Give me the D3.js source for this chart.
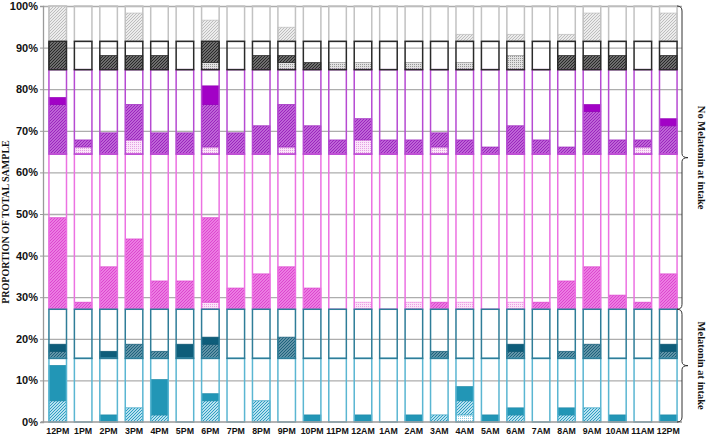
<!DOCTYPE html>
<html><head><meta charset="utf-8">
<script src="https://cdn.jsdelivr.net/npm/d3@7/dist/d3.min.js"></script>
<style>body{margin:0;background:#fff}svg{display:block}</style>
</head><body>
<script>
// ---------- DATA (percent of total sample) ----------
const timeLabels = ["12PM","1PM","2PM","3PM","4PM","5PM","6PM","7PM","8PM","9PM","10PM","11PM","12AM","1AM","2AM","3AM","4AM","5AM","6AM","7AM","8AM","9AM","10AM","11AM","12PM"];
const yTickValues = [0,10,20,30,40,50,60,70,80,90,100];
// cumulative boundaries of the six sub-groups (frames)
const groupBounds = [0, 15.3, 27.1, 64.4, 84.7, 91.5, 100];

// Melatonin at intake — light teal group
const tealDotted  = [0,0,0,0,0,0,0,0,0,0,0,0,0,0,0,0,1.7,0,0,0,0,0,0,0,0];
const tealHatched = [5.1,0,0,3.4,1.7,0,5.1,0,5.1,0,0,0,0,0,0,1.7,3.4,0,1.7,0,1.7,3.4,0,0,0];
const tealSolid   = [8.5,0,1.7,0,8.5,0,1.7,0,0,0,1.7,0,1.7,0,1.7,0,3.4,1.7,1.7,0,1.7,0,1.7,0,1.7];
// Melatonin at intake — dark teal group
const dTealHatched = [1.7,0,0,3.4,1.7,0,3.4,0,0,5.1,0,0,0,0,0,1.7,0,0,1.7,0,1.7,3.4,0,0,1.7];
const dTealSolid   = [1.7,0,1.7,0,0,3.4,1.7,0,0,0,0,0,0,0,0,0,0,0,1.7,0,0,0,0,0,1.7];
// No melatonin — pink group
const pinkDotted  = [0,0,0,0,0,0,1.7,0,0,0,0,0,1.7,0,1.7,0,1.7,0,1.7,0,0,0,0,0,0];
const pinkHatched = [22.0,1.7,10.2,16.9,6.8,6.8,20.3,5.1,8.5,10.2,5.1,0,0,0,0,1.7,0,0,0,1.7,6.8,10.2,3.4,1.7,8.5];
// No melatonin — purple group
const purpDotted  = [0,1.7,0,3.4,0,0,1.7,0,0,1.7,0,0,3.4,0,0,1.7,0,0,0,0,0,0,0,1.7,0];
const purpHatched = [11.9,1.7,5.1,8.5,5.1,5.1,10.2,5.1,6.8,10.2,6.8,3.4,5.1,3.4,3.4,3.4,3.4,1.7,6.8,3.4,1.7,10.2,3.4,1.7,6.8];
const purpSolid   = [1.7,0,0,0,0,0,4.5,0,0,0,0,0,0,0,0,0,0,0,0,0,0,1.7,0,0,1.7];
// No melatonin — dark gray group
const dGrayDotted  = [0,0,0,0,0,0,1.7,0,0,1.7,0,1.7,1.7,0,1.7,0,1.7,0,3.4,0,0,0,0,0,0];
const dGrayHatched = [6.8,0,3.4,3.4,3.4,0,5.1,0,3.4,1.7,1.7,0,0,0,0,0,0,0,0,0,3.4,3.4,3.4,0,3.4];
// No melatonin — light gray group
const lGrayHatched = [8.5,0,0,6.8,0,0,5.1,0,0,3.4,0,0,0,0,0,0,1.7,0,1.7,0,1.7,6.8,0,0,6.8];

// ---------- STYLE ----------
const W = 709, H = 438;
const svg = d3.select("body").append("svg").attr("width", W).attr("height", H)
  .style("font-family", "'Liberation Serif','Times New Roman',serif");
const defs = svg.append("defs");
function hatch(id, bg, fg, sw) {
  const p = defs.append("pattern").attr("id", id).attr("patternUnits", "userSpaceOnUse")
    .attr("width", 3).attr("height", 3);
  p.append("rect").attr("width", 3).attr("height", 3).attr("fill", bg);
  p.append("path").attr("d", "M-1,1L1,-1M0,3L3,0M2,4L4,2").attr("stroke", fg).attr("stroke-width", sw || 1);
}
function dots(id, bg, fg) {
  const p = defs.append("pattern").attr("id", id).attr("patternUnits", "userSpaceOnUse")
    .attr("width", 2).attr("height", 2);
  p.append("rect").attr("width", 2).attr("height", 2).attr("fill", bg);
  p.append("rect").attr("width", 1).attr("height", 1).attr("fill", fg);
}
dots("tealDot", "#ffffff", "#8fcde2");
hatch("tealHatch", "#b9e1ef", "#2f9fc2", 1);
hatch("dTealHatch", "#80a9ba", "#175e79", 1.1);
dots("pinkDot", "#fbe4f8", "#ee9ce6");
hatch("pinkHatch", "#f294ea", "#dc42ce", 1.1);
dots("purpDot", "#fbe6fa", "#e4a0e4");
hatch("purpHatch", "#cc82e0", "#9a1fbd", 1.1);
dots("grayDot", "#e2e2e2", "#969696");
hatch("dGrayHatch", "#8a8a8a", "#232323", 1.1);
hatch("lGrayHatch", "#ececec", "#bdbdbd", 1);

const series = [
  {vals: tealDotted,  g: 0, fill: "url(#tealDot)",   stroke: "#8fcde2"},
  {vals: tealHatched, g: 0, fill: "url(#tealHatch)", stroke: "#2f9fc2"},
  {vals: tealSolid,   g: 0, fill: "#2296b6",         stroke: "#1f8aa8"},
  {vals: dTealHatched,g: 1, fill: "url(#dTealHatch)",stroke: "#175e79"},
  {vals: dTealSolid,  g: 1, fill: "#0e5d7a",         stroke: "#0b5470"},
  {vals: pinkDotted,  g: 2, fill: "url(#pinkDot)",   stroke: "#ee9ce6"},
  {vals: pinkHatched, g: 2, fill: "url(#pinkHatch)", stroke: "#dc42ce"},
  {vals: purpDotted,  g: 3, fill: "url(#purpDot)",   stroke: "#e4a0e4"},
  {vals: purpHatched, g: 3, fill: "url(#purpHatch)", stroke: "#9a1fbd"},
  {vals: purpSolid,   g: 3, fill: "#a202c6",         stroke: "#9400b8"},
  {vals: dGrayDotted, g: 4, fill: "url(#grayDot)",   stroke: "#969696"},
  {vals: dGrayHatched,g: 4, fill: "url(#dGrayHatch)",stroke: "#232323"},
  {vals: lGrayHatched,g: 5, fill: "url(#lGrayHatch)",stroke: "#bdbdbd"}
];
const frameColors = ["#5ab6d2", "#2f7d98", "#ec72e2", "#b64ad2", "#2a2a2a", "#c2c2c2"];
const frameOrder = [0, 2, 1, 3, 5, 4];

// ---------- SCALES ----------
const x = d3.scaleBand().domain(d3.range(timeLabels.length)).range([45, 681])
  .paddingInner(0.31).paddingOuter(0.155);
const y = d3.scaleLinear().domain([0, 100]).range([422, 6]);

// gridlines
svg.append("g").attr("transform", "translate(43,0)")
  .call(d3.axisLeft(y).tickValues(yTickValues.filter(v => v > 0)).tickSize(-639).tickFormat(""))
  .call(g => g.select(".domain").remove())
  .selectAll("line").attr("stroke", "#adadad").attr("stroke-width", 1.3);

// stacked segment rects
const segs = [];
timeLabels.forEach((_, i) => {
  const off = groupBounds.slice(0, 6);
  series.forEach(s => {
    const v = s.vals[i];
    if (v > 0) {
      segs.push({i, y0: off[s.g], y1: off[s.g] + v, fill: s.fill, stroke: s.stroke});
      off[s.g] += v;
    }
  });
});
svg.append("g").selectAll("rect").data(segs).join("rect")
  .attr("x", d => x(d.i)).attr("width", x.bandwidth())
  .attr("y", d => y(d.y1)).attr("height", d => y(d.y0) - y(d.y1))
  .attr("fill", d => d.fill).attr("stroke", d => d.stroke).attr("stroke-width", 0.7);

// group frames
const frames = [];
frameOrder.forEach(g => timeLabels.forEach((_, i) => frames.push({i, g})));
svg.append("g").selectAll("rect").data(frames).join("rect")
  .attr("x", d => x(d.i)).attr("width", x.bandwidth())
  .attr("y", d => y(groupBounds[d.g + 1])).attr("height", d => y(groupBounds[d.g]) - y(groupBounds[d.g + 1]))
  .attr("fill", "none").attr("stroke", d => frameColors[d.g]).attr("stroke-width", 1.5);

// y axis
const yAx = svg.append("g").attr("transform", "translate(43,0)")
  .call(d3.axisLeft(y).tickValues(yTickValues).tickSize(3).tickPadding(2).tickFormat(d => d + "%"));
yAx.select(".domain").attr("stroke", "#9a9a9a").attr("stroke-width", 1.3);
yAx.selectAll("line").attr("stroke", "#9a9a9a");
yAx.selectAll("text").style("font-size", "11px").style("font-weight", "bold").attr("fill", "#111");

// x axis
const xAx = svg.append("g").attr("transform", "translate(0,422)")
  .call(d3.axisBottom(x).tickSize(0).tickSizeOuter(0).tickPadding(6).tickFormat(i => timeLabels[i]));
xAx.select(".domain").attr("stroke", "#9a9a9a").attr("stroke-width", 1.3).attr("d", "M-2,0H639").attr("transform", "translate(43,0)");
xAx.selectAll("text").style("font-size", "8.8px").style("font-weight", "bold").attr("fill", "#111");

// y title
svg.append("text").attr("transform", "translate(9,222) rotate(-90)").attr("text-anchor", "middle")
  .style("font-size", "10px").style("font-weight", "bold").attr("fill", "#111")
  .text("PROPORTION OF TOTAL SAMPLE");

// braces
function brace(x0, ya, yb, w) {
  const ym = (ya + yb) / 2;
  return `M${x0 - 5},${ya} Q${x0},${ya} ${x0},${ya + 5} L${x0},${ym - 4} Q${x0},${ym} ${x0 + w},${ym} ` +
         `Q${x0},${ym} ${x0},${ym + 4} L${x0},${yb - 5} Q${x0},${yb} ${x0 - 5},${yb}`;
}
svg.append("path").attr("d", brace(682, y(100), y(groupBounds[2]), 6))
  .attr("fill", "none").attr("stroke", "#333").attr("stroke-width", 1);
svg.append("path").attr("d", brace(682, y(groupBounds[2]), y(0), 6))
  .attr("fill", "none").attr("stroke", "#333").attr("stroke-width", 1);

const ymNo = (y(100) + y(groupBounds[2])) / 2, ymMel = (y(groupBounds[2]) + y(0)) / 2;
svg.append("text").attr("transform", `translate(698,${ymNo}) rotate(90)`).attr("text-anchor", "middle")
  .style("font-size", "10.5px").style("font-weight", "bold").attr("fill", "#111")
  .text("No Melatonin at intake");
svg.append("text").attr("transform", `translate(698,${ymMel}) rotate(90)`).attr("text-anchor", "middle")
  .style("font-size", "10.5px").style("font-weight", "bold").attr("fill", "#111")
  .text("Melatonin at intake");
</script>
</body></html>
